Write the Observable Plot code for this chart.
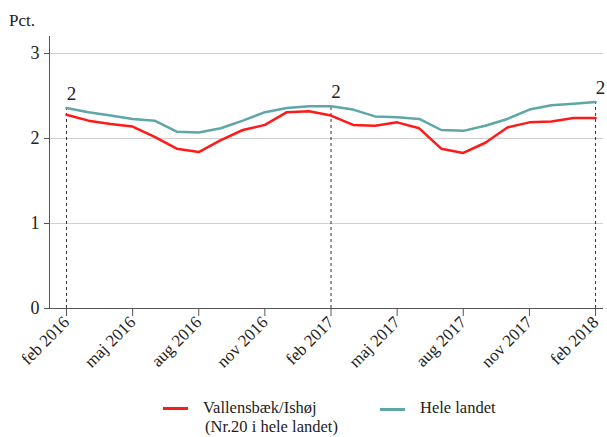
<!DOCTYPE html>
<html>
<head>
<meta charset="utf-8">
<script src="https://cdn.jsdelivr.net/npm/d3@7"></script>
<script src="https://cdn.jsdelivr.net/npm/@observablehq/plot@0.6"></script>
<style>
  body { margin: 0; background: #fff; font-family: "Liberation Serif", "DejaVu Serif", serif; }
  #wrap { position: relative; width: 607px; height: 437px; overflow: hidden; }
  svg, svg g, svg text { font-family: "Liberation Serif", serif !important; }
  #pct { position: absolute; left: 9px; top: 11px; font-size: 17px; color: #222; }
  #legend { position: absolute; left: 0; top: 380px; width: 607px; height: 57px; font-size: 16.5px; color: #222; }
  .sw { position: absolute; height: 3px; width: 25px; }
  .lt { position: absolute; line-height: 19px; white-space: nowrap; }
</style>
</head>
<body>
<div id="wrap">
  <div id="chart"></div>
  <div id="pct">Pct.</div>
  <div id="legend">
    <div class="sw" style="left:163px; top:27px; background:#ff1a1a;"></div>
    <div class="lt" style="left:203px; top:18px;">Vallensbæk/Ishøj</div>
    <div class="lt" style="left:205px; top:37px;">(Nr.20 i hele landet)</div>
    <div class="sw" style="left:380px; top:28px; background:#5ea6a8;"></div>
    <div class="lt" style="left:420px; top:18px;">Hele landet</div>
  </div>
</div>
<script>
const months = ["feb 2016","mar 2016","apr 2016","maj 2016","jun 2016","jul 2016","aug 2016","sep 2016","okt 2016","nov 2016","dec 2016","jan 2017",
                "feb 2017","mar 2017","apr 2017","maj 2017","jun 2017","jul 2017","aug 2017","sep 2017","okt 2017","nov 2017","dec 2017","jan 2018","feb 2018"];
const vallensbaek = [2.28,2.21,2.17,2.14,2.02,1.88,1.84,1.98,2.10,2.16,2.31,2.32,
                     2.27,2.16,2.15,2.19,2.12,1.88,1.83,1.95,2.13,2.19,2.20,2.24,2.24];
const heleLandet = [2.36,2.31,2.27,2.23,2.21,2.08,2.07,2.12,2.21,2.31,2.36,2.38,
                    2.38,2.34,2.26,2.25,2.23,2.10,2.09,2.15,2.23,2.34,2.39,2.41,2.43];
const tickMonths = ["feb 2016","maj 2016","aug 2016","nov 2016","feb 2017","maj 2017","aug 2017","nov 2017","feb 2018"];
const markerMonths = ["feb 2016","feb 2017","feb 2018"];
const markerLabels = ["2","2","2"];
const yTicks = [0,1,2,3];

const FONT = "Liberation Serif, serif";
const rows = months.map((m, i) => ({i, m, v: vallensbaek[i], h: heleLandet[i]}));
const idx = m => months.indexOf(m);
const markers = markerMonths.map((m, k) => ({i: idx(m), h: heleLandet[idx(m)], label: markerLabels[k]}));
const xDomain = [-0.77, months.length - 1 + 0.36];

const chart = Plot.plot({
  width: 607,
  height: 380,
  marginLeft: 49,
  marginRight: 4,
  marginTop: 36,
  marginBottom: 72,
  style: {fontFamily: FONT, color: "#222", background: "#fff"},
  x: {type: "linear", domain: xDomain},
  y: {domain: [0, 3.2]},
  marks: [
    Plot.gridY([1, 2, 3], {stroke: "#cfcfcf", strokeOpacity: 1, strokeWidth: 1}),
    Plot.ruleX([xDomain[0]], {stroke: "#555", strokeWidth: 1}),
    Plot.ruleX(markers, {x: "i", y1: 0, y2: "h", stroke: "#333", strokeDasharray: "3,3", strokeWidth: 1}),
    Plot.line(rows, {x: "i", y: "h", stroke: "#5ea6a8", strokeWidth: 2.5}),
    Plot.line(rows, {x: "i", y: "v", stroke: "#ff1a1a", strokeWidth: 2.5}),
    Plot.text(markers, {x: "i", y: "h", text: "label", dy: -14, dx: 5, fontSize: 19, fontFamily: FONT, fill: "#222"}),
    Plot.axisY({ticks: yTicks, tickFormat: d3.format("d"), tickSize: 5, tickPadding: 5, fontSize: 18, fontFamily: FONT, label: null, stroke: "#555"}),
    Plot.axisX({ticks: tickMonths.map(idx), tickFormat: i => months[i], tickRotate: -45, tickSize: 8, tickPadding: 3, fontSize: 17, fontFamily: FONT, label: null, stroke: "#555"}),
    Plot.ruleY([0], {x1: xDomain[0] - 0.2, x2: xDomain[1], stroke: "#555", strokeWidth: 1, clip: false})
  ]
});
document.getElementById("chart").appendChild(chart);
</script>
</body>
</html>
